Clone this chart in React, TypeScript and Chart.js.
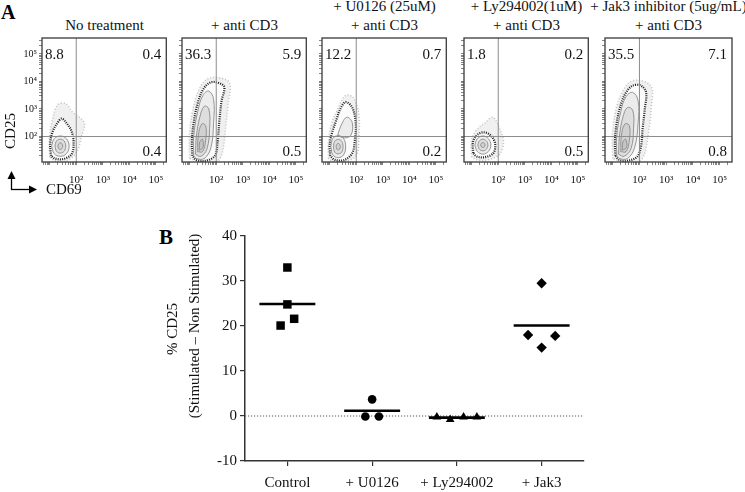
import React, { useEffect, useRef } from 'react';
import { Chart, registerables } from 'chart.js';

Chart.register(...registerables);

const SERIF = '"Liberation Serif", "Times New Roman", Times, serif';

// ---------------- Panel A data ----------------
const panelTitles: string[][] = [
  ['No treatment'],
  ['+ anti CD3'],
  ['+ U0126 (25uM)', '+ anti CD3'],
  ['+ Ly294002(1uM)', '+ anti CD3'],
  ['+ Jak3 inhibitor (5ug/mL)', '+ anti CD3'],
];
const upperLeftPct = ['8.8', '36.3', '12.2', '1.8', '35.5'];
const upperRightPct = ['0.4', '5.9', '0.7', '0.2', '7.1'];
const lowerRightPct = ['0.4', '0.5', '0.2', '0.5', '0.8'];
const flowDecades = [2, 3, 4, 5];
const flowDecadeLabels = ['10²', '10³', '10⁴', '10⁵'];
const gateCD69 = 2;
const gateCD25 = 2;

type Pt = [number, number];

// No treatment
const noTxCloud: Pt[] = [[1.0, 1.25], [0.98, 1.9], [1.1, 2.6], [1.3, 3.15], [1.6, 3.2], [1.85, 2.9], [2.3, 2.5], [2.2, 2.0], [2.0, 1.4], [1.6, 1.1], [1.2, 1.12]];
const noTxOuter: Pt[] = [[1.05, 1.3], [1.02, 1.75], [1.12, 2.2], [1.3, 2.5], [1.45, 2.65], [1.62, 2.5], [1.82, 2.2], [1.9, 1.75], [1.82, 1.35], [1.5, 1.18], [1.2, 1.2]];
const noTxRings: Pt[][] = [
  [[1.07, 1.65], [1.17, 1.92], [1.4, 2.02], [1.63, 1.92], [1.73, 1.65], [1.63, 1.38], [1.4, 1.28], [1.17, 1.38]],
  [[1.2, 1.65], [1.26, 1.84], [1.4, 1.9], [1.54, 1.84], [1.6, 1.65], [1.54, 1.46], [1.4, 1.4], [1.26, 1.46]],
  [[1.31, 1.65], [1.34, 1.74], [1.4, 1.77], [1.46, 1.74], [1.49, 1.65], [1.46, 1.56], [1.4, 1.53], [1.34, 1.56]],
];

// + anti CD3
const cd3Cloud: Pt[] = [[1.0, 1.2], [0.98, 2.0], [1.1, 2.9], [1.3, 3.6], [1.6, 4.05], [2.0, 4.15], [2.5, 3.95], [2.45, 3.2], [2.35, 2.3], [2.25, 1.5], [2.05, 1.1], [1.5, 1.05]];
const cd3Outer: Pt[] = [[1.1, 1.3], [1.08, 1.8], [1.15, 2.5], [1.3, 3.2], [1.5, 3.7], [1.75, 3.95], [2.0, 3.97], [2.3, 3.8], [2.2, 3.3], [2.12, 2.6], [2.05, 1.8], [1.95, 1.3], [1.6, 1.12], [1.25, 1.15]];
const cd3Rings: Pt[][] = [
  [[1.15, 1.3], [1.15, 2.0], [1.3, 2.9], [1.5, 3.5], [1.72, 3.65], [1.9, 3.35], [1.9, 2.5], [1.8, 1.6], [1.55, 1.2], [1.25, 1.2]],
  [[1.22, 1.35], [1.25, 2.0], [1.38, 2.7], [1.55, 3.1], [1.72, 3.0], [1.75, 2.3], [1.65, 1.55], [1.42, 1.28]],
  [[1.3, 1.45], [1.32, 2.0], [1.45, 2.45], [1.6, 2.4], [1.6, 1.85], [1.48, 1.45]],
  [[1.36, 1.5], [1.38, 1.8], [1.48, 1.9], [1.5, 1.6]],
];

// + U0126
const u0126Cloud: Pt[] = [[0.95, 1.2], [0.95, 1.8], [1.05, 2.4], [1.3, 3.0], [1.6, 3.5], [1.9, 3.4], [2.1, 2.8], [2.1, 2.0], [2.0, 1.3], [1.5, 1.08], [1.1, 1.1]];
const u0126Outer: Pt[] = [[1.02, 1.3], [1.0, 1.7], [1.08, 2.1], [1.25, 2.6], [1.4, 3.0], [1.6, 3.25], [1.85, 3.05], [1.98, 2.5], [1.95, 1.9], [1.85, 1.4], [1.55, 1.15], [1.2, 1.15]];
const u0126Rings: Pt[][] = [
  [[1.3, 2.05], [1.45, 2.45], [1.65, 2.7], [1.85, 2.5], [1.8, 2.05], [1.55, 1.95]],
  [[1.04, 1.63], [1.12, 1.93], [1.32, 2.03], [1.52, 1.93], [1.6, 1.63], [1.52, 1.33], [1.32, 1.23], [1.12, 1.33]],
  [[1.14, 1.63], [1.19, 1.83], [1.32, 1.89], [1.45, 1.83], [1.5, 1.63], [1.45, 1.43], [1.32, 1.37], [1.19, 1.43]],
  [[1.24, 1.63], [1.27, 1.72], [1.32, 1.75], [1.37, 1.72], [1.4, 1.63], [1.37, 1.54], [1.32, 1.51], [1.27, 1.54]],
];

// + Ly294002
const lyCloud: Pt[] = [[1.0, 1.25], [0.98, 1.8], [1.15, 2.2], [1.5, 2.5], [1.8, 2.7], [2.05, 2.3], [2.2, 1.8], [2.05, 1.35], [1.6, 1.15], [1.2, 1.15]];
const lyOuter: Pt[] = [[1.06, 1.4], [1.05, 1.8], [1.2, 2.05], [1.45, 2.15], [1.7, 2.05], [1.88, 1.75], [1.82, 1.4], [1.5, 1.25], [1.2, 1.27]];
const lyRings: Pt[][] = [
  [[1.12, 1.69], [1.21, 1.92], [1.42, 2.02], [1.63, 1.92], [1.72, 1.69], [1.63, 1.46], [1.42, 1.36], [1.21, 1.46]],
  [[1.23, 1.69], [1.29, 1.84], [1.42, 1.9], [1.55, 1.84], [1.61, 1.69], [1.55, 1.54], [1.42, 1.48], [1.29, 1.54]],
  [[1.34, 1.69], [1.36, 1.75], [1.42, 1.78], [1.48, 1.75], [1.5, 1.69], [1.48, 1.63], [1.42, 1.6], [1.36, 1.63]],
];

// + Jak3 inhibitor
const jakCloud: Pt[] = [[1.0, 1.2], [0.98, 2.0], [1.1, 2.9], [1.3, 3.5], [1.6, 3.95], [2.0, 4.05], [2.45, 3.8], [2.45, 3.1], [2.35, 2.2], [2.2, 1.4], [2.0, 1.1], [1.5, 1.05]];
const jakOuter: Pt[] = [[1.1, 1.3], [1.08, 1.8], [1.15, 2.5], [1.3, 3.15], [1.5, 3.6], [1.75, 3.85], [2.05, 3.85], [2.25, 3.6], [2.2, 3.0], [2.12, 2.3], [2.05, 1.6], [1.9, 1.25], [1.55, 1.12], [1.25, 1.15]];
const jakRings: Pt[][] = [
  [[1.15, 1.3], [1.15, 2.0], [1.3, 2.9], [1.5, 3.45], [1.75, 3.6], [1.95, 3.3], [1.95, 2.5], [1.82, 1.6], [1.55, 1.2], [1.25, 1.2]],
  [[1.22, 1.35], [1.25, 2.0], [1.38, 2.7], [1.55, 3.05], [1.75, 2.95], [1.78, 2.3], [1.68, 1.55], [1.42, 1.28]],
  [[1.3, 1.45], [1.32, 2.0], [1.45, 2.45], [1.62, 2.4], [1.62, 1.85], [1.5, 1.45]],
  [[1.36, 1.5], [1.38, 1.8], [1.48, 1.9], [1.52, 1.6]],
];

const flowClouds = [noTxCloud, cd3Cloud, u0126Cloud, lyCloud, jakCloud];
const flowOuters = [noTxOuter, cd3Outer, u0126Outer, lyOuter, jakOuter];
const flowRings = [noTxRings, cd3Rings, u0126Rings, lyRings, jakRings];

// ---------------- Panel B data ----------------
const categories = ['Control', '+ U0126', '+ Ly294002', '+ Jak3'];
const controlValues = [33.0, 24.8, 21.6, 20.1];
const controlJitter = [0, 0, 0.08, -0.08];
const u0126Values = [3.7, -0.1, -0.1];
const u0126Jitter = [0, -0.08, 0.08];
const ly294002Values = [-0.2, -0.8, -0.2, -0.2];
const ly294002Jitter = [-0.236, -0.079, 0.079, 0.236];
const jak3Values = [29.5, 18.0, 17.8, 15.2];
const jak3Jitter = [0, -0.16, 0.16, 0];
const yMinB = -10;
const yMaxB = 40;
const yStepB = 10;

// ---------------- Layout ----------------
const FLOW_LEFT = [42, 182, 322, 464, 605];
const FLOW_WIDTH = [125, 125, 125, 125, 127];
const FLOW_X_MIN = 0.71;
const FLOW_PX_PER_DECADE = 26.7;
const FLOW_Y_MIN = 1.073;
const FLOW_Y_MAX = 5.58;
const FLOW_AXIS_W = 30;
const FLOW_PAD_TOP = 8;
const FLOW_PLOT_H = 124;
const FLOW_AXIS_H = 30;
const FLOW_PAD_RIGHT = 6;

const closed = (pts: Pt[]) => [...pts, pts[0]].map(([x, y]) => ({ x, y }));

function minorTicks(min: number, max: number) {
  const t: { value: number }[] = [];
  for (let d = 0; d <= 5; d++) {
    for (let k = 1; k <= 9; k++) {
      const v = d + Math.log10(k);
      if (v >= min - 1e-9 && v <= max + 1e-9) t.push({ value: v });
    }
  }
  return t;
}

function decadeLabel(v: number) {
  const i = flowDecades.findIndex((d) => Math.abs(d - v) < 1e-9);
  return i >= 0 ? flowDecadeLabels[i] : '';
}

function fontsReady(): Promise<any> {
  const d: any = document;
  if (!d.fonts || !d.fonts.load) return Promise.resolve();
  return Promise.all([
    d.fonts.load(`15px "Liberation Serif"`),
    d.fonts.load(`bold 15px "Liberation Serif"`),
  ]).catch(() => undefined);
}

function useChart(ref: React.RefObject<HTMLCanvasElement>, makeConfig: () => any) {
  useEffect(() => {
    let chart: Chart | null = null;
    let cancelled = false;
    fontsReady().then(() => {
      if (cancelled || !ref.current) return;
      chart = new Chart(ref.current, makeConfig());
    });
    return () => {
      cancelled = true;
      if (chart) chart.destroy();
    };
  }, []);
}

function FlowPlot({ idx }: { idx: number }) {
  const ref = useRef<HTMLCanvasElement>(null);
  const w = FLOW_WIDTH[idx];
  const cw = FLOW_AXIS_W + w + FLOW_PAD_RIGHT;
  const ch = FLOW_PAD_TOP + FLOW_PLOT_H + FLOW_AXIS_H;
  useChart(ref, () => {
    const datasets: any[] = [];
    datasets.push({
      data: closed(flowClouds[idx]), showLine: true, fill: 'shape',
      backgroundColor: 'rgba(70,70,70,0.08)', borderColor: 'rgba(70,70,70,0.3)',
      borderWidth: 1.5, borderDash: [1, 2], tension: 0.35, pointRadius: 0, order: 20,
    });
    datasets.push({
      data: closed(flowOuters[idx]), showLine: true, fill: 'shape',
      backgroundColor: 'rgba(255,255,255,0.75)', borderColor: '#222',
      borderWidth: 2.2, borderDash: [1, 1.2], tension: 0.35, pointRadius: 0, order: 19,
    });
    flowRings[idx].forEach((ring, i) => {
      datasets.push({
        data: closed(ring), showLine: true, fill: 'shape',
        backgroundColor: 'rgba(0,0,0,0.06)', borderColor: '#8a8a8a',
        borderWidth: 0.9, tension: 0.4, pointRadius: 0, order: 18 - i,
      });
    });
    const xMax = FLOW_X_MIN + w / FLOW_PX_PER_DECADE;
    const overlay = {
      id: 'flowOverlay',
      afterDatasetsDraw(chart: any) {
        const { ctx, chartArea: a, scales } = chart;
        const gx = scales.x.getPixelForValue(gateCD69);
        const gy = scales.y.getPixelForValue(gateCD25);
        ctx.save();
        ctx.strokeStyle = '#8c8c8c';
        ctx.lineWidth = 1;
        ctx.beginPath();
        ctx.moveTo(gx, a.top); ctx.lineTo(gx, a.bottom);
        ctx.moveTo(a.left, gy); ctx.lineTo(a.right, gy);
        ctx.stroke();
        ctx.strokeStyle = '#3a3a3a';
        ctx.lineWidth = 1.3;
        ctx.strokeRect(a.left, a.top, a.right - a.left, a.bottom - a.top);
        ctx.fillStyle = '#111';
        ctx.font = `15px ${SERIF}`;
        ctx.textBaseline = 'middle';
        ctx.textAlign = 'left';
        ctx.fillText(upperLeftPct[idx], a.left + 3, a.top + 17);
        ctx.textAlign = 'right';
        ctx.fillText(upperRightPct[idx], a.right - 5, a.top + 17);
        ctx.fillText(lowerRightPct[idx], a.right - 5, a.bottom - 10);
        ctx.restore();
      },
    };
    return {
      type: 'scatter',
      data: { datasets },
      options: {
        animation: false,
        responsive: false,
        events: [],
        layout: { padding: { top: FLOW_PAD_TOP, right: FLOW_PAD_RIGHT, left: 0, bottom: 0 } },
        plugins: { legend: { display: false }, tooltip: { enabled: false } },
        scales: {
          x: {
            type: 'linear', min: FLOW_X_MIN, max: xMax,
            afterBuildTicks: (s: any) => { s.ticks = minorTicks(s.min, s.max); },
            afterFit: (s: any) => { s.height = FLOW_AXIS_H; },
            grid: { drawOnChartArea: false, drawTicks: true, tickLength: 3, color: '#666', lineWidth: 0.8 },
            border: { display: false },
            ticks: {
              autoSkip: false, maxRotation: 0, padding: 9, color: '#111',
              font: { family: SERIF, size: 11 },
              callback: (v: any) => decadeLabel(Number(v)),
            },
          },
          y: {
            type: 'linear', min: FLOW_Y_MIN, max: FLOW_Y_MAX,
            afterBuildTicks: (s: any) => { s.ticks = minorTicks(s.min, s.max); },
            afterFit: (s: any) => { s.width = FLOW_AXIS_W; },
            grid: { drawOnChartArea: false, drawTicks: true, tickLength: 3, color: '#666', lineWidth: 0.8 },
            border: { display: false },
            ticks: {
              autoSkip: false, padding: 2, color: '#111',
              font: { family: SERIF, size: 10 },
              callback: (v: any) => (idx === 0 ? decadeLabel(Number(v)) : ''),
            },
          },
        },
      },
      plugins: [overlay],
    };
  });
  return (
    <canvas
      ref={ref}
      width={cw}
      height={ch}
      style={{ position: 'absolute', left: FLOW_LEFT[idx] - FLOW_AXIS_W, top: 30, width: cw, height: ch }}
    />
  );
}

function FlowTitle({ idx }: { idx: number }) {
  const lines = panelTitles[idx];
  const center = FLOW_LEFT[idx] + FLOW_WIDTH[idx] / 2;
  return (
    <div
      style={{
        position: 'absolute', left: center - 110, width: 220, top: lines.length === 1 ? 15.5 : -3.5,
        textAlign: 'center', fontFamily: SERIF, fontSize: 15, lineHeight: '19px', color: '#111', whiteSpace: 'nowrap',
      }}
    >
      {lines.map((l, i) => (<div key={i}>{l}</div>))}
    </div>
  );
}

function DotPlot() {
  const ref = useRef<HTMLCanvasElement>(null);
  useChart(ref, () => {
    const mean = (a: number[]) => a.reduce((s, v) => s + v, 0) / a.length;
    const groups = [
      { values: controlValues, jitter: controlJitter, style: 'rect', radius: 6 },
      { values: u0126Values, jitter: u0126Jitter, style: 'circle', radius: 4.3 },
      { values: ly294002Values, jitter: ly294002Jitter, style: 'triangle', radius: 5 },
      { values: jak3Values, jitter: jak3Jitter, style: 'rectRot', radius: 5.2 },
    ];
    const datasets: any[] = [];
    datasets.push({
      data: [{ x: -0.5, y: 0 }, { x: categories.length - 0.5, y: 0 }],
      showLine: true, borderColor: '#555', borderWidth: 1, borderDash: [1.2, 1.8],
      pointRadius: 0, order: 10,
    });
    groups.forEach((g, i) => {
      const m = mean(g.values);
      datasets.push({
        data: [{ x: i - 0.33, y: m }, { x: i + 0.33, y: m }],
        showLine: true, borderColor: '#000', borderWidth: 2.6, pointRadius: 0, order: 5,
      });
      datasets.push({
        data: g.values.map((v, k) => ({ x: i + g.jitter[k], y: v })),
        pointStyle: g.style, pointRadius: g.radius, backgroundColor: '#000', borderColor: '#000',
        borderWidth: 0, order: 1,
      });
    });
    const yTitle = {
      id: 'yTitle',
      afterDraw(chart: any) {
        const ctx = chart.ctx;
        const lines: [string, number, number][] = [
          ['% CD25', 23, 109],
          ['(Stimulated – Non Stimulated)', 45, 106],
        ];
        lines.forEach(([txt, x, y]) => {
          ctx.save();
          ctx.fillStyle = '#111';
          ctx.font = `15px ${SERIF}`;
          ctx.textAlign = 'center';
          ctx.textBaseline = 'middle';
          ctx.translate(x, y);
          ctx.rotate(-Math.PI / 2);
          ctx.fillText(txt, 0, 0);
          ctx.restore();
        });
      },
    };
    return {
      type: 'scatter',
      data: { datasets },
      options: {
        animation: false,
        responsive: false,
        events: [],
        layout: { padding: { top: 16, right: 16, left: 0, bottom: 0 } },
        plugins: { legend: { display: false }, tooltip: { enabled: false } },
        scales: {
          x: {
            type: 'linear', min: -0.5, max: categories.length - 0.5,
            afterBuildTicks: (s: any) => { s.ticks = categories.map((_, i) => ({ value: i })); },
            afterFit: (s: any) => { s.height = 31; },
            grid: { drawOnChartArea: false, drawTicks: true, tickLength: 5, color: '#333', lineWidth: 1.2 },
            border: { display: true, color: '#333', width: 1.5 },
            ticks: {
              autoSkip: false, maxRotation: 0, padding: 8, color: '#111',
              font: { family: SERIF, size: 15 },
              callback: (v: any) => categories[Math.round(Number(v))] ?? '',
            },
          },
          y: {
            type: 'linear', min: yMinB, max: yMaxB,
            afterFit: (s: any) => { s.width = 95; },
            grid: { drawOnChartArea: false, drawTicks: true, tickLength: 5, color: '#333', lineWidth: 1.2 },
            border: { display: true, color: '#333', width: 1.5 },
            ticks: {
              stepSize: yStepB, padding: 3, color: '#111',
              font: { family: SERIF, size: 15 },
            },
          },
        },
      },
      plugins: [yTitle],
    };
  });
  return (
    <canvas ref={ref} width={450} height={272}
      style={{ position: 'absolute', left: 150, top: 220, width: 450, height: 272 }} />
  );
}

export default function App() {
  return (
    <div style={{ position: 'absolute', left: 0, top: 0, width: 745, height: 492, background: '#fff', overflow: 'hidden' }}>
      <div style={{ position: 'absolute', left: 1, top: 0, fontFamily: SERIF, fontWeight: 'bold', fontSize: 20, lineHeight: '24px', color: '#000' }}>A</div>
      {panelTitles.map((_, i) => (<FlowTitle key={'t' + i} idx={i} />))}
      {panelTitles.map((_, i) => (<FlowPlot key={'p' + i} idx={i} />))}
      <div style={{ position: 'absolute', left: 10 - 30, top: 131 - 10, width: 60, height: 20, transform: 'rotate(-90deg)', textAlign: 'center', fontFamily: SERIF, fontSize: 15, lineHeight: '20px', color: '#111' }}>CD25</div>
      <svg style={{ position: 'absolute', left: 0, top: 160, width: 50, height: 40 }} width={50} height={40}>
        <line x1={11.5} y1={29.5} x2={11.5} y2={17} stroke="#000" strokeWidth={1.3} />
        <polygon points="11.5,11 7.5,19 15.5,19" fill="#000" />
        <line x1={11} y1={29.5} x2={31} y2={29.5} stroke="#000" strokeWidth={1.3} />
        <polygon points="37,29.5 29,25.5 29,33.5" fill="#000" />
      </svg>
      <div style={{ position: 'absolute', left: 46, top: 179, fontFamily: SERIF, fontSize: 15, lineHeight: '20px', color: '#111' }}>CD69</div>
      <div style={{ position: 'absolute', left: 159, top: 224, fontFamily: SERIF, fontWeight: 'bold', fontSize: 21, lineHeight: '26px', color: '#000' }}>B</div>
      <DotPlot />
    </div>
  );
}
